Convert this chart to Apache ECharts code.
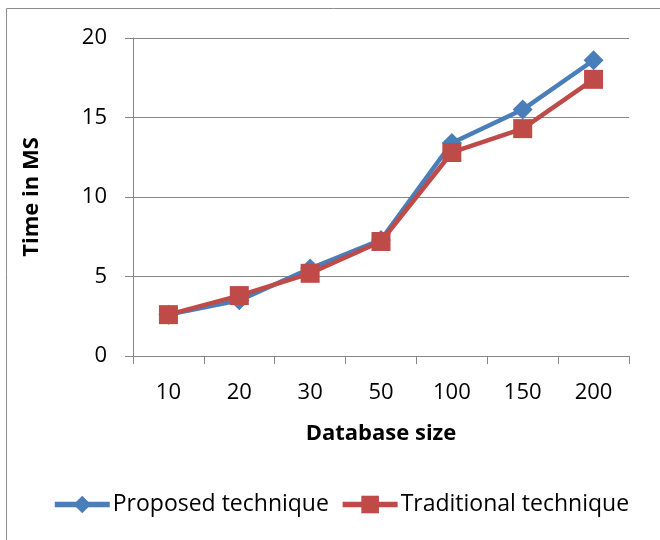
<!DOCTYPE html>
<html>
<head>
<meta charset="utf-8">
<script src="https://cdn.jsdelivr.net/npm/echarts@6/dist/echarts.min.js"></script>
<style>
  html, body { margin: 0; padding: 0; background: #fff; }
  #chart { width: 660px; height: 540px; }
</style>
</head>
<body>
<div id="chart"></div>
<script>
// Query time for each database size
const categories = ['10', '20', '30', '50', '100', '150', '200'];
const proposed = [2.6, 3.5, 5.5, 7.3, 13.4, 15.5, 18.6];
const traditional = [2.6, 3.8, 5.2, 7.2, 12.8, 14.3, 17.4];
const seriesNames = ['Proposed technique', 'Traditional technique'];

const FONT = '"Open Sans", "Noto Sans", sans-serif';
const GRID_COLOR = '#868686';
const BLUE = '#4A7EBB';
const RED = '#BE4B48';

const chart = echarts.init(document.getElementById('chart'));
chart.setOption({
  animation: false,
  backgroundColor: '#fff',
  graphic: [{
    type: 'rect',
    shape: { x: 6.5, y: 8.5, width: 700, height: 600 },
    style: { fill: 'none', stroke: '#8c8c8c', lineWidth: 1 },
    silent: true
  }],
  grid: { left: 133, right: 31, top: 38, bottom: 184, containLabel: false },
  xAxis: {
    type: 'category',
    data: categories,
    boundaryGap: true,
    name: 'Database size',
    nameLocation: 'middle',
    nameGap: 67,
    nameTextStyle: { fontFamily: FONT, fontSize: 22, fontWeight: 'bold', color: '#000' },
    axisLine: { lineStyle: { color: GRID_COLOR, width: 1 } },
    axisTick: { show: true, length: 8, lineStyle: { color: GRID_COLOR } },
    axisLabel: { fontFamily: FONT, fontSize: 22, color: '#000', margin: 26 }
  },
  yAxis: {
    type: 'value',
    min: 0,
    max: 20,
    interval: 5,
    name: 'Time in MS',
    nameLocation: 'middle',
    nameGap: 90,
    nameRotate: 90,
    nameTextStyle: { fontFamily: FONT, fontSize: 22, fontWeight: 'bold', color: '#000' },
    axisLine: { show: true, lineStyle: { color: GRID_COLOR, width: 1 } },
    axisTick: { show: true, length: 8, lineStyle: { color: GRID_COLOR } },
    axisLabel: { fontFamily: FONT, fontSize: 22, color: '#000', margin: 26 },
    splitLine: { show: true, lineStyle: { color: GRID_COLOR, width: 1 } }
  },
  legend: {
    top: 493,
    left: 52,
    padding: 0,
    itemWidth: 55,
    itemHeight: 22,
    itemGap: 11,
    lineStyle: { width: 5.5 },
    textStyle: { fontFamily: FONT, fontSize: 23, color: '#000', padding: [0, 0, 0, -2] },
    data: seriesNames
  },
  series: [
    {
      name: seriesNames[0],
      type: 'line',
      data: proposed,
      symbol: 'diamond',
      symbolSize: 20,
      itemStyle: { color: BLUE },
      lineStyle: { color: BLUE, width: 4.5 },
      z: 2
    },
    {
      name: seriesNames[1],
      type: 'line',
      data: traditional,
      symbol: 'rect',
      symbolSize: 19,
      itemStyle: { color: RED },
      lineStyle: { color: RED, width: 4.5 },
      z: 3
    }
  ]
});
</script>
</body>
</html>
